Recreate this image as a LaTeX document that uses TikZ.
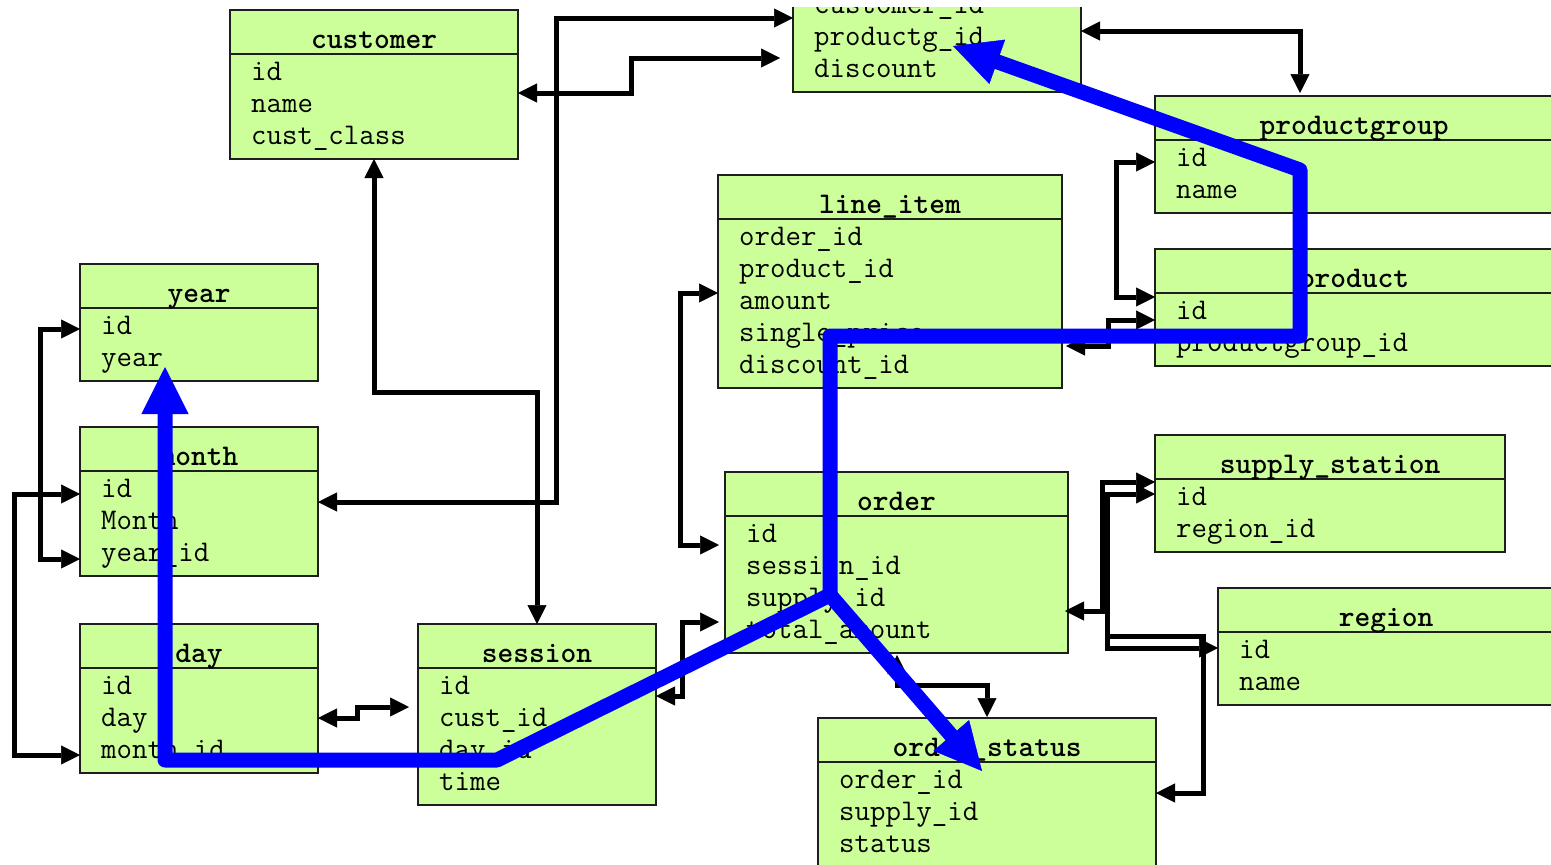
\documentclass[tikz,border=0pt]{standalone}
\usetikzlibrary{arrows.meta,calc}
\definecolor{tblfill}{HTML}{CCFF99}
\definecolor{tblline}{HTML}{1E1E1E}
\definecolor{pathblue}{HTML}{0000FF}
\tikzset{
  tbox/.style={draw=tblline, fill=tblfill, line width=2pt, inner sep=0pt, outer sep=0pt, rectangle},
  tline/.style={draw=tblline, line width=2pt},
  ttitle/.style={font=\fontsize{30}{36}\selectfont\ttfamily\bfseries, inner sep=0pt, anchor=base},
  tfield/.style={font=\fontsize{30}{36}\selectfont\ttfamily, inner sep=0pt, anchor=base west},
  conn/.style={line width=5pt, black, line join=miter, >={Triangle[length=19pt,width=19pt,line width=0.5pt]}},
  bluepath/.style={line width=15pt, draw=pathblue, line join=round, line cap=round,
     >={Triangle[length=47pt,width=47pt,line width=0.5pt]}},
}
% name, left, top, right, nfields, title, fields
\newcommand\dbtab[7]{%
  \node[tbox, anchor=north west, minimum width={#4-#2}, minimum height={85+32*(#5-1)}] (#1) at (#2,#3) {};
  \draw[tline] ($(#1.north west)+(0,44)$) -- ($(#1.north east)+(0,44)$);
  \node[ttitle] (#1-title) at ($(#1.north)+(0,38)$) {#6};
  \foreach \fld [count=\i] in {#7} {
    \node[tfield] (#1-\i) at ($(#1.north west)+(21,{70.5+32*(\i-1)})$) {\fld};
  }%
}
\begin{document}
\begin{tikzpicture}[x=1pt,y=-1pt]
\useasboundingbox (0,0) rectangle (1551,865);
\fill[white] (0,0) rectangle (1551,865);
\begin{scope}
\clip (0,7) rectangle (1551,865);
% tables
\dbtab{customer}{230}{10}{518}{3}{customer}{id,name,cust\_class}
\dbtab{discount}{793}{-57}{1081}{3}{}{customer\_id,productg\_id,discount}
\dbtab{productgroup}{1155}{96}{1553}{2}{productgroup}{id,name}
\dbtab{product}{1155}{249}{1553}{2}{product}{id,productgroup\_id}
\dbtab{lineitem}{718}{175}{1062}{5}{line\_item}{order\_id,product\_id,amount,single\_price,discount\_id}
\dbtab{year}{80}{264}{318}{2}{year}{id,year}
\dbtab{month}{80}{427}{318}{3}{month}{id,Month,year\_id}
\dbtab{day}{80}{624}{318}{3}{day}{id,day,month\_id}
\dbtab{session}{418}{624}{656}{4}{session}{id,cust\_id,day\_id,time}
\dbtab{order}{725}{472}{1068}{4}{order}{id,session\_id,supply\_id,total\_amount}
\dbtab{orderstatus}{818}{718}{1156}{3}{order\_status}{order\_id,supply\_id,status}
\dbtab{supplystation}{1155}{435}{1505}{2}{supply\_station}{id,region\_id}
\dbtab{region}{1218}{588}{1554}{2}{region}{id,name}

% black connectors
\draw[conn,<->] (discount.west |- 0,18) -- (556,18) -- (556,502) -- (month.east |- 0,502);
\draw[conn,<->] (customer.east |- 0,93) -- (631,93) -- (631,58) -- ($(discount.west |- 0,58)+(-13,0)$);
\draw[conn,<->] (customer.south) -- (374,392) -- (537,392) -- (session.north);
\draw[conn,<->] (discount.east |- 0,31) -- (1300,31) -- ($(1300,0 |- productgroup.north)+(0,-3)$);
\draw[conn,<->] (productgroup.west |- 0,162) -- (1116,162) -- (1116,297) -- (product.west |- 0,297);
\draw[conn,<->] ($(lineitem.east |- 0,346)+(4,0)$) -- (1108,346) -- (1108,320) -- (product.west |- 0,320);
\draw[conn,<->] (lineitem.west |- 0,293) -- (680,293) -- (680,545) -- ($(order.west |- 0,545)+(-6,0)$);
\draw[conn,<->] ($(order.west |- 0,622)+(-6,0)$) -- (682,622) -- (682,696) -- (session.east |- 0,696);
\draw[conn,<->] (day.east |- 0,718) -- (357,718) -- (357,707) -- ($(session.west |- 0,707)+(-9,0)$);
\draw[conn,<->] (year.west |- 0,329) -- (40,329) -- (40,559) -- (month.west |- 0,559);
\draw[conn,<->] (month.west |- 0,494) -- (14,494) -- (14,755) -- (day.west |- 0,755);
\draw[conn,<->] ($(897,0 |- order.south)+(0,2)$) -- (897,685) -- (987,685) -- ($(987,0 |- orderstatus.north)+(0,-1)$);
\draw[conn,<->] ($(order.east |- 0,611)+(-3,0)$) -- (1102,611) -- (1102,482) -- (supplystation.west |- 0,482);
\draw[conn,<->] (supplystation.west |- 0,494) -- (1107,494) -- (1107,648) -- (region.west |- 0,648);
\coordinate (tap) at (1105,636);
\draw[conn,->] (tap) -- (1203,636) -- (1203,793) -- (orderstatus.east |- 0,793);

% blue path
\coordinate (J) at (830,595);
\coordinate (tipD) at (953,46);
\coordinate (tipY) at (165,367);
\coordinate (tipS) at (982,771);
\draw[bluepath,->] (J) -- (830,336) -- (1300,336) -- (1300,170) -- (tipD);
\draw[bluepath,->] (J) -- (497,760) -- (165,760) -- (tipY);
\draw[bluepath,->] (J) -- (tipS);
\end{scope}
\end{tikzpicture}
\end{document}
